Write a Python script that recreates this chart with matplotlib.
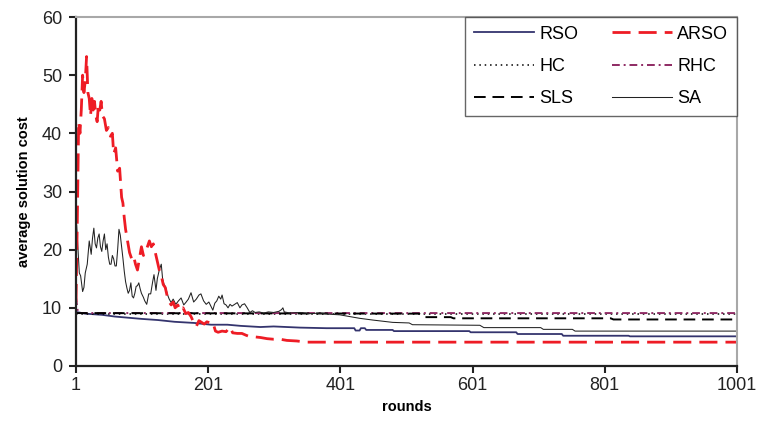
import numpy as np
import matplotlib
matplotlib.use("Agg")
import matplotlib.pyplot as plt

plt.rcParams['font.family'] = ['Liberation Sans', 'DejaVu Sans']

# ARSO (adaptive) - noisy early, settles ~4
arso_x = [1, 3, 5, 7, 9, 11, 13, 15, 17, 19, 21, 23, 25, 27, 29, 31, 33, 35, 37, 39,
          41, 44, 47, 50, 53, 56, 58, 61, 64, 67, 70, 72, 74, 76, 79, 82, 85, 88, 91, 94,
          97, 100, 103, 106, 109, 112, 115, 118, 121, 124, 127, 130, 133, 136, 139, 142,
          145, 148, 151, 155, 159, 163, 167, 171, 175, 179, 183, 187, 191, 195, 199, 204,
          208, 212, 216, 222, 228, 234, 238, 245, 252, 258, 265, 272, 280, 290, 300, 310,
          320, 335, 350, 370, 1001]
arso_y = [11, 25, 42, 40, 44, 50, 47, 49, 53.2, 47, 46, 43, 46, 44, 45.5, 43, 42, 45, 44, 45.5,
          43, 42.5, 40.5, 41, 39.5, 40, 36.5, 37.5, 33.5, 34, 29, 28, 25.5, 23.5, 21.5, 19.5, 18.5, 19, 17.5, 16.5,
          18.5, 20.5, 19, 19.5, 20.5, 21.5, 20.5, 21, 19.5, 18, 16.5, 15.5, 14, 13.5, 12, 11,
          10.5, 11, 10, 10.5, 9.5, 10, 9, 9.2, 8.5, 7.5, 6.8, 7.8, 7.5, 7.2, 7.6, 7.4,
          7.5, 6.0, 5.8, 6.0, 5.9, 6.7, 5.7, 5.6, 5.6, 5.3, 5.0, 5.0, 4.9, 4.7, 4.6, 4.6,
          4.4, 4.3, 4.1, 4.1, 4.1]

# SA
sa_x = [1, 2, 4, 6, 8, 11, 13, 15, 18, 21, 24, 26, 28, 30, 32, 34, 36, 38, 40, 42, 44, 46,
        48, 50, 52, 54, 56, 58, 60, 62, 64, 66, 68, 70, 72, 74, 76, 78, 80, 82, 84, 86, 88,
        90, 92, 94, 96, 98, 100, 103, 105, 108, 111, 114, 117, 119, 122, 124, 127, 130, 132,
        134, 137, 139, 142, 145, 148, 152, 156, 160, 164, 167, 171, 175, 179, 183, 187, 190,
        194, 198, 202, 205, 208, 211, 214, 217, 220, 222, 225, 228, 231, 234, 237, 241, 245,
        249, 252, 256, 260, 264, 268, 272, 278, 285, 292, 300, 308, 312, 314, 316, 325, 340,
        355, 370, 385, 400, 415, 430, 450, 480, 505, 510, 612, 618, 704, 708, 752, 756, 1001]
sa_y = [16.5, 24.3, 20, 16, 15.5, 12.8, 13.5, 16, 17.5, 21.5, 19.2, 22, 23.7, 21, 20.3, 22, 22.7, 20.5, 19.7, 21.5, 22.7, 20,
        21, 18.7, 17.5, 17.5, 19, 18.4, 17.2, 17.2, 20, 23.5, 22.5, 20.5, 18.5, 16.3, 14.5, 13.4, 12.5, 13, 14.3, 12, 11.7,
        12.5, 13.7, 13.8, 14.3, 13.3, 12.5, 11.8, 11.2, 10.6, 12.4, 12.4, 14.5, 15.7, 13, 15, 16.5, 17.5, 15,
        14.1, 13.4, 12.4, 11.5, 10.9, 11.5, 10.6, 11.2, 11.7, 10.5, 10.9, 11.5, 12.6, 11, 11.5, 12.2, 12.4,
        11.2, 10.6, 11, 10.3, 9.6, 10.8, 11.2, 12, 11.5, 12.2, 10.7, 10.5, 10, 10.6, 10.3, 10.6, 10.9,
        10, 10.5, 10.7, 10, 9.2, 9.5, 9.2, 9.3, 9.1, 9.3, 9.2, 9.4, 9.7, 10, 9.3, 9.1, 9.2,
        9.0, 9.1, 8.9, 8.8, 8.5, 8.2, 7.9, 7.5, 7.4, 7.1, 7.0, 6.6, 6.6, 6.3, 6.3, 6.0, 6.0]

# RSO - slow stepwise decline
rso_x = [1, 15, 40, 60, 80, 100, 125, 150, 180, 205, 230, 250, 280, 300, 320, 340, 380, 422,
         424, 430, 432, 438, 440, 480, 482, 596, 598, 667, 669, 736, 738, 837, 839, 1001]
rso_y = [9.3, 9.0, 8.8, 8.5, 8.3, 8.1, 7.9, 7.6, 7.4, 7.1, 7.1, 6.9, 6.7, 6.8, 6.7, 6.6, 6.5, 6.5,
         6.1, 6.1, 6.5, 6.5, 6.2, 6.2, 6.0, 6.0, 5.8, 5.8, 5.5, 5.5, 5.2, 5.2, 5.1, 5.1]

hc_x = [1, 1001]
hc_y = [9.0, 9.0]

rhc_x = [1, 4, 1001]
rhc_y = [11.8, 9.1, 9.1]

sls_x = [1, 520, 525, 568, 572, 810, 814, 1001]
sls_y = [9.1, 9.0, 8.4, 8.4, 8.2, 8.2, 8.0, 8.0]

xticks = [1, 201, 401, 601, 801, 1001]
yticks = [0, 10, 20, 30, 40, 50, 60]

fig = plt.figure(figsize=(7.6, 4.21), dpi=100)
ax = fig.add_axes([76/760, 1 - 366/421, (737 - 76)/760, (366 - 17)/421])

l_rso, = ax.plot(rso_x, rso_y, color='#34346e', lw=1.3, label='RSO')
l_hc, = ax.plot(hc_x, hc_y, color='black', lw=1.1, dashes=(1, 2.5), label='HC')
l_rhc, = ax.plot(rhc_x, rhc_y, color='#8e2a63', lw=1.4, dashes=(4, 2, 1, 2), label='RHC')
l_sls, = ax.plot(sls_x, sls_y, color='black', lw=1.4, dashes=(6, 3.5), label='SLS')
l_sa, = ax.plot(sa_x, sa_y, color='#222222', lw=0.75, label='SA')
l_arso, = ax.plot(arso_x, arso_y, color='#ee1c25', lw=2.0, dashes=(6.5, 2.9), label='ARSO')

ax.set_xlim(1, 1001)
ax.set_ylim(0, 60)
ax.set_xticks(xticks)
ax.set_yticks(yticks)
ax.tick_params(axis='both', direction='out', length=5, width=1.5, labelsize=13, colors='#222222')
ax.tick_params(axis='y', pad=5)
ax.tick_params(axis='x', pad=3)

for s in ['left', 'bottom']:
    ax.spines[s].set_linewidth(1.6)
    ax.spines[s].set_color('#222222')
for s in ['top', 'right']:
    ax.spines[s].set_linewidth(1.5)
    ax.spines[s].set_color('#a8a8a8')

ax.set_xlabel('rounds', fontsize=10.5, fontweight='bold', labelpad=4)
ax.set_ylabel('average solution cost', fontsize=10.5, fontweight='bold', labelpad=8)

leg = ax.legend([l_rso, l_hc, l_sls, l_arso, l_rhc, l_sa],
                ['RSO', 'HC', 'SLS', 'ARSO', 'RHC', 'SA'],
                ncol=2, loc='upper right', bbox_to_anchor=(1, 1), borderaxespad=0,
                fontsize=13, handlelength=3.3, handletextpad=0.3, columnspacing=1.9,
                labelspacing=0.85, borderpad=0.48, fancybox=False, frameon=True)
leg.get_frame().set_edgecolor('#404040')
leg.get_frame().set_linewidth(1.0)

fig.savefig('out.png', dpi=100)
